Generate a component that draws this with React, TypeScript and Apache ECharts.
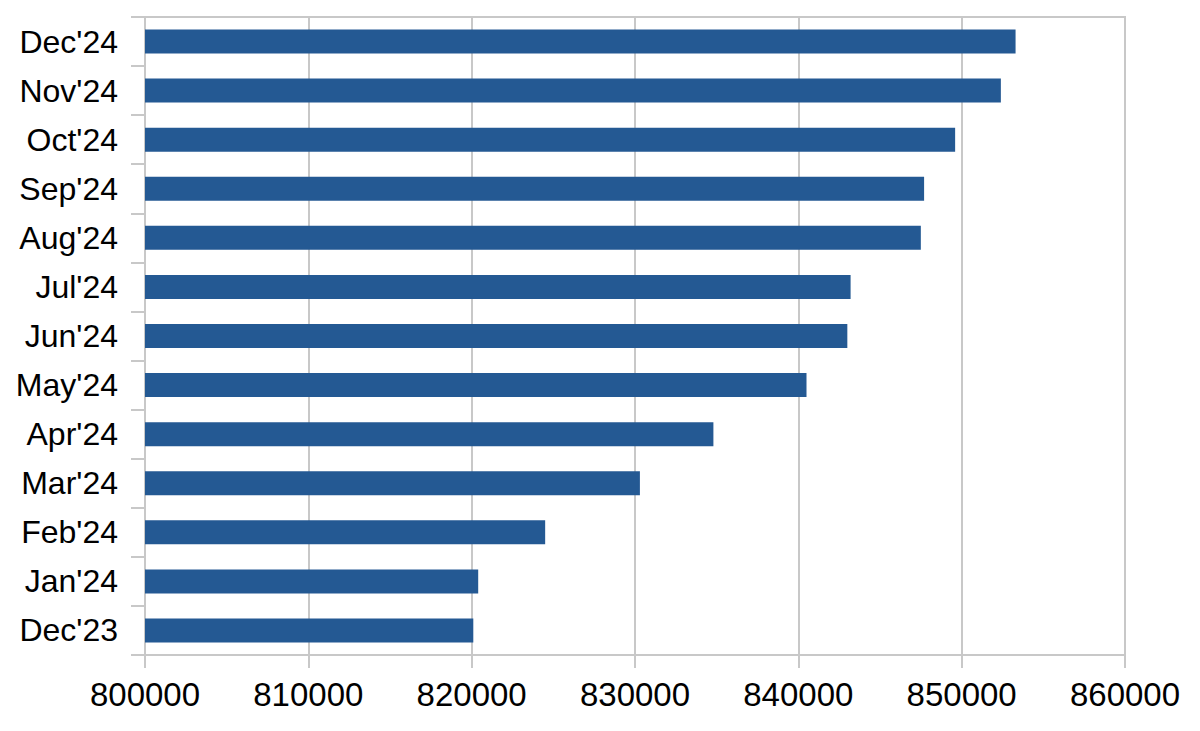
import React, { useEffect, useRef } from "react";
import * as echarts from "echarts";

const months = ["Dec'23", "Jan'24", "Feb'24", "Mar'24", "Apr'24", "May'24", "Jun'24", "Jul'24", "Aug'24", "Sep'24", "Oct'24", "Nov'24", "Dec'24"];
const values = [820100, 820400, 824500, 830300, 834800, 840500, 843000, 843200, 847500, 847700, 849600, 852400, 853300];
const xMin = 800000;
const xMax = 860000;
const xStep = 10000;

export default function App() {
  const ref = useRef<HTMLDivElement>(null);
  useEffect(() => {
    if (!ref.current) return;
    const chart = echarts.init(ref.current, undefined, { renderer: "svg" });
    const gray = "#c8c8c8";
    const font = "'Liberation Sans', Arial, Helvetica, sans-serif";
    chart.setOption({
      animation: false,
      backgroundColor: "#ffffff",
      grid: {
        left: 145,
        right: 75,
        top: 17,
        bottom: 76,
        containLabel: false,
        show: true,
        borderColor: gray,
        borderWidth: 2,
      },
      xAxis: {
        type: "value",
        min: xMin,
        max: xMax,
        interval: xStep,
        axisLine: { show: true, lineStyle: { color: gray, width: 2 } },
        axisTick: { show: true, length: 13, lineStyle: { color: gray, width: 2 } },
        splitLine: { show: true, lineStyle: { color: gray, width: 2 } },
        axisLabel: {
          color: "#000",
          fontSize: 33,
          fontFamily: font,
          margin: 23,
          formatter: (v: number) => String(v),
        },
      },
      yAxis: {
        type: "category",
        data: months,
        axisLine: { show: true, lineStyle: { color: gray, width: 2 } },
        axisTick: { show: true, length: 14, alignWithLabel: false, lineStyle: { color: gray, width: 2 } },
        splitLine: { show: false },
        axisLabel: { color: "#000", fontSize: 32, fontFamily: font, margin: 27 },
      },
      series: [
        {
          type: "bar",
          data: values,
          barWidth: 24,
          itemStyle: { color: "#245993" },
        },
      ],
    });
    return () => chart.dispose();
  }, []);
  return <div ref={ref} style={{ width: 1200, height: 731, margin: -8 }} />;
}
